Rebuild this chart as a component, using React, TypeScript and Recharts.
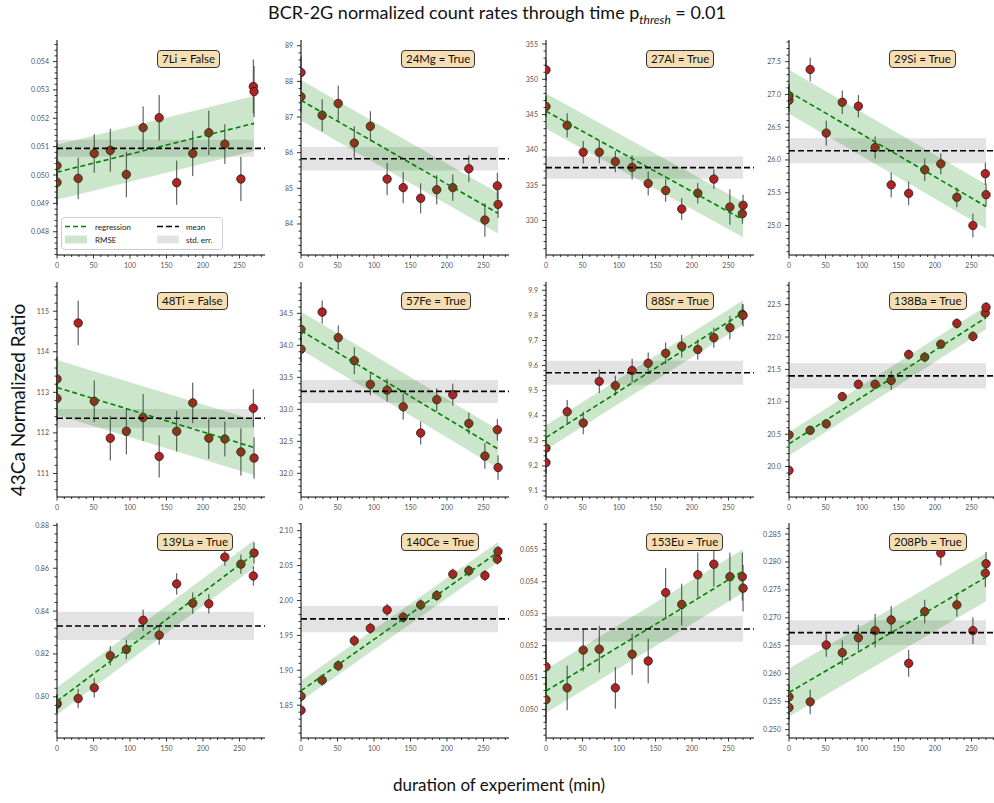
import React from "react";
import {
  ComposedChart,
  Scatter,
  Line,
  Area,
  XAxis,
  YAxis,
  ErrorBar,
  ReferenceLine,
  ReferenceArea,
} from "recharts";

// time of each measurement (min)
const minutes = [0, 0, 29, 51, 73, 95, 118, 140, 164, 186, 208, 230, 252, 269, 270];

const isotopes = ["7Li", "24Mg", "27Al", "29Si", "48Ti", "57Fe", "88Sr", "138Ba", "139La", "140Ce", "153Eu", "208Pb"];
const significant = [false, true, true, true, false, true, true, true, true, true, true, true];

// 43Ca normalized ratios
const li7 = [0.05033, 0.04974, 0.04988, 0.05076, 0.05087, 0.05002, 0.05167, 0.05202, 0.04973, 0.05076, 0.05149, 0.05109, 0.04986, 0.05312, 0.05294];
const mg24 = [88.25, 87.57, 87.05, 87.38, 86.27, 86.74, 85.26, 85.02, 84.72, 84.96, 85.02, 85.55, 84.11, 85.07, 84.55];
const al27 = [351.33, 346.14, 343.48, 339.67, 339.67, 338.33, 337.52, 335.24, 334.24, 331.62, 333.86, 335.86, 331.9, 330.95, 332.14];
const si29 = [26.91, 26.98, 27.38, 26.41, 26.88, 26.82, 26.19, 25.62, 25.49, 25.85, 25.94, 25.43, 25.0, 25.79, 25.47];
const ti48 = [113.33, 112.85, 114.71, 112.78, 111.87, 112.04, 112.38, 111.42, 112.04, 112.74, 111.87, 111.85, 111.53, 112.61, 111.38];
const fe57 = [34.25, 33.94, 34.52, 34.12, 33.76, 33.39, 33.3, 33.04, 32.63, 33.15, 33.23, 32.78, 32.27, 32.68, 32.09];
const sr88 = [9.271, 9.213, 9.416, 9.371, 9.537, 9.52, 9.58, 9.609, 9.649, 9.677, 9.664, 9.711, 9.751, 9.804, 9.8];
const ba138 = [20.49, 19.94, 20.56, 20.66, 21.08, 21.27, 21.27, 21.33, 21.73, 21.69, 21.89, 22.21, 22.01, 22.37, 22.46];
const la139 = [0.7966, 0.797, 0.7992, 0.8042, 0.8192, 0.8221, 0.8357, 0.8288, 0.8527, 0.8437, 0.8434, 0.8652, 0.8619, 0.8564, 0.8671];
const ce140 = [1.8629, 1.8428, 1.8859, 1.9065, 1.9424, 1.9602, 1.9865, 1.976, 1.9937, 2.0071, 2.0377, 2.0425, 2.0358, 2.0593, 2.0703];
const eu153 = [0.05134, 0.05031, 0.05068, 0.05186, 0.05189, 0.05068, 0.05173, 0.05152, 0.05366, 0.05329, 0.05422, 0.05455, 0.05416, 0.05416, 0.0538];
const pb208 = [0.25586, 0.25395, 0.25497, 0.26514, 0.26376, 0.26645, 0.26771, 0.26962, 0.26186, 0.27112, 0.28159, 0.27232, 0.26771, 0.278, 0.27968];

// error bar half widths
const li7Err = [0.0008, 0.0008, 0.00073, 0.00068, 0.00076, 0.0008, 0.00075, 0.0008, 0.00078, 0.0008, 0.00078, 0.0007, 0.00078, 0.00095, 0.0009];
const mg24Err = [0.45, 0.45, 0.45, 0.5, 0.47, 0.42, 0.45, 0.44, 0.42, 0.41, 0.37, 0.37, 0.47, 0.37, 0.38];
const al27Err = [1.5, 1.5, 1.7, 1.6, 1.6, 1.5, 1.7, 1.7, 1.6, 1.55, 1.45, 1.4, 2.5, 1.4, 1.5];
const si29Err = [0.18, 0.18, 0.18, 0.19, 0.18, 0.17, 0.17, 0.19, 0.18, 0.17, 0.16, 0.15, 0.18, 0.17, 0.17];
const ti48Err = [0.55, 0.55, 0.55, 0.51, 0.55, 0.57, 0.58, 0.52, 0.5, 0.5, 0.51, 0.43, 0.58, 0.47, 0.51];
const fe57Err = [0.2, 0.2, 0.18, 0.19, 0.21, 0.17, 0.18, 0.2, 0.18, 0.18, 0.17, 0.17, 0.2, 0.17, 0.19];
const sr88Err = [0.045, 0.045, 0.047, 0.045, 0.047, 0.04, 0.047, 0.043, 0.043, 0.045, 0.04, 0.04, 0.047, 0.04, 0.045];
const ba138Err = [0.08, 0.08, 0.07, 0.07, 0.07, 0.07, 0.07, 0.15, 0.08, 0.08, 0.07, 0.08, 0.08, 0.07, 0.08];
const la139Err = [0.0043, 0.0043, 0.0045, 0.0045, 0.0045, 0.0045, 0.005, 0.0045, 0.005, 0.005, 0.0045, 0.004, 0.0045, 0.0045, 0.005];
const ce140Err = [0.008, 0.008, 0.008, 0.008, 0.008, 0.008, 0.009, 0.008, 0.008, 0.008, 0.008, 0.008, 0.008, 0.008, 0.008];
const eu153Err = [0.0007, 0.0007, 0.0007, 0.00067, 0.00073, 0.00065, 0.00065, 0.0007, 0.00077, 0.00065, 0.0007, 0.0007, 0.00075, 0.00075, 0.00073];
const pb208Err = [0.0022, 0.0022, 0.0022, 0.0021, 0.0022, 0.0023, 0.003, 0.0025, 0.0024, 0.0021, 0.0022, 0.0021, 0.0024, 0.0025, 0.0021];

const ratios = [li7, mg24, al27, si29, ti48, fe57, sr88, ba138, la139, ce140, eu153, pb208];
const ratioErrs = [li7Err, mg24Err, al27Err, si29Err, ti48Err, fe57Err, sr88Err, ba138Err, la139Err, ce140Err, eu153Err, pb208Err];

// regression line at t=0 and t=270, RMSE, mean and standard error
const fitStart = [0.0501, 87.47, 345.48, 27.04, 113.12, 34.23, 9.313, 20.35, 0.798, 1.8706, 0.05058, 0.25664];
const fitEnd = [0.05182, 84.3, 330.1, 25.29, 111.64, 32.38, 9.811, 22.3, 0.8666, 2.0693, 0.05434, 0.27728];
const rmse = [0.00097, 0.57, 2.5, 0.335, 0.68, 0.3, 0.049, 0.18, 0.0064, 0.0145, 0.00068, 0.0043];
const means = [0.05094, 85.83, 337.48, 26.14, 112.36, 33.28, 9.571, 21.4, 0.83306, 1.9736, 0.05252, 0.26735];
const stdErr = [0.0003, 0.33, 1.57, 0.19, 0.23, 0.18, 0.048, 0.195, 0.0066, 0.019, 0.0004, 0.0022];

const yDomains = [
  [0.04718, 0.05476], [83.13, 89.16], [325.1, 355.57], [24.55, 27.83],
  [110.42, 115.72], [31.63, 34.99], [9.076, 9.933], [19.53, 22.85],
  [0.7808, 0.8811], [1.803, 2.111], [0.04911, 0.05584], [0.2485, 0.28697],
];
const yMajorTicks = [
  [0.048, 0.049, 0.05, 0.051, 0.052, 0.053, 0.054],
  [84, 85, 86, 87, 88, 89],
  [330, 335, 340, 345, 350, 355],
  [25.0, 25.5, 26.0, 26.5, 27.0, 27.5],
  [111, 112, 113, 114, 115],
  [32.0, 32.5, 33.0, 33.5, 34.0, 34.5],
  [9.1, 9.2, 9.3, 9.4, 9.5, 9.6, 9.7, 9.8, 9.9],
  [20.0, 20.5, 21.0, 21.5, 22.0, 22.5],
  [0.8, 0.82, 0.84, 0.86, 0.88],
  [1.85, 1.9, 1.95, 2.0, 2.05, 2.1],
  [0.05, 0.051, 0.052, 0.053, 0.054, 0.055],
  [0.25, 0.255, 0.26, 0.265, 0.27, 0.275, 0.28, 0.285],
];
const yMinorStep = [0.0002, 0.2, 1, 0.1, 0.2, 0.1, 0.02, 0.1, 0.004, 0.01, 0.0002, 0.001];
const yDecimals = [3, 0, 0, 1, 0, 1, 1, 1, 2, 2, 3, 3];

const xMajorTicks = [0, 50, 100, 150, 200, 250];
const xDomain = [0, 285];

const COL_LEFT = [57, 301, 546, 789];
const ROW_TOP = [40, 282, 523];
const PLOT_W = 208;
const PLOT_H = 215;
const Y_AXIS_W = 45;
const M_TOP = 6;
const M_RIGHT = 12;
const X_AXIS_H = 20;
const M_BOTTOM = 2;

const FONT = "Lato, 'DejaVu Sans', sans-serif";

function stepTicks(lo: number, hi: number, step: number) {
  const out: number[] = [];
  let k = Math.ceil(lo / step - 1e-9);
  while (k * step <= hi + 1e-12) {
    out.push(+(k * step).toFixed(8));
    k++;
  }
  return out;
}

const xTicks = stepTicks(0, 280, 10);

function XTick(props: any) {
  const { x, y, payload } = props;
  const v = payload.value;
  const major = xMajorTicks.some((m) => Math.abs(m - v) < 1e-6);
  return (
    <g>
      <line x1={x} x2={x} y1={y} y2={y + (major ? 3.5 : 2)} stroke="#000" strokeWidth={0.8} />
      {major && (
        <text x={x} y={y + 12.5} textAnchor="middle" fontSize={7} fill="#555" fontFamily={FONT}>
          {v}
        </text>
      )}
    </g>
  );
}

function YTick(props: any) {
  const { x, y, payload, majors, step, dec } = props;
  const v = payload.value;
  const major = majors.some((m: number) => Math.abs(m - v) < step * 1e-3);
  return (
    <g>
      <line x1={x - (major ? 4 : 2.5)} x2={x} y1={y} y2={y} stroke="#000" strokeWidth={0.8} />
      {major && (
        <text x={x - 8} y={y + 2.5} textAnchor="end" fontSize={7} fill="#555" fontFamily={FONT}>
          {v.toFixed(dec)}
        </text>
      )}
    </g>
  );
}

function Panel({ idx }: { idx: number }) {
  const row = Math.floor(idx / 4);
  const col = idx % 4;
  const plotLeft = COL_LEFT[col];
  const plotTop = ROW_TOP[row];

  const points = minutes.map((t, i) => ({ t, v: ratios[idx][i], err: ratioErrs[idx][i] }));
  const fit = [
    { t: 0, v: fitStart[idx], band: [fitStart[idx] - rmse[idx], fitStart[idx] + rmse[idx]] },
    { t: 270, v: fitEnd[idx], band: [fitEnd[idx] - rmse[idx], fitEnd[idx] + rmse[idx]] },
  ];
  const dom = yDomains[idx];
  const yTicks = stepTicks(dom[0], dom[1], yMinorStep[idx]);

  return (
    <>
      <div style={{ position: "absolute", left: plotLeft - Y_AXIS_W, top: plotTop - M_TOP }}>
        <ComposedChart
          width={Y_AXIS_W + PLOT_W + M_RIGHT}
          height={M_TOP + PLOT_H + X_AXIS_H + M_BOTTOM}
          margin={{ top: M_TOP, right: M_RIGHT, bottom: M_BOTTOM, left: 0 }}
        >
          <XAxis
            dataKey="t"
            type="number"
            domain={xDomain}
            allowDataOverflow
            ticks={xTicks}
            interval={0}
            tickSize={0}
            tickMargin={0}
            tickLine={false}
            tick={<XTick />}
            axisLine={{ stroke: "#000", strokeWidth: 1 }}
            height={X_AXIS_H}
          />
          <YAxis
            dataKey="v"
            type="number"
            domain={dom}
            allowDataOverflow
            ticks={yTicks}
            interval={0}
            tickSize={0}
            tickMargin={0}
            tickLine={false}
            tick={(p: any) => (
              <YTick {...p} majors={yMajorTicks[idx]} step={yMinorStep[idx]} dec={yDecimals[idx]} />
            )}
            axisLine={{ stroke: "#000", strokeWidth: 1 }}
            width={Y_AXIS_W}
          />
          <ReferenceArea
            x1={0}
            x2={270}
            y1={means[idx] - stdErr[idx]}
            y2={means[idx] + stdErr[idx]}
            fill="#808080"
            fillOpacity={0.22}
            stroke="none"
            ifOverflow="hidden"
          />
          <Scatter
            data={points}
            isAnimationActive={false}
            shape={(p: any) => (
              <circle cx={p.cx} cy={p.cy} r={4.2} fill="#B22222" stroke="#1a1a1a" strokeWidth={0.8} />
            )}
          >
            <ErrorBar dataKey="err" direction="y" width={0} stroke="#444" strokeWidth={1} />
          </Scatter>
          <Area
            data={fit}
            dataKey="band"
            type="linear"
            stroke="none"
            fill="#008000"
            fillOpacity={0.2}
            isAnimationActive={false}
            zIndex={700}
          />
          <Line
            data={fit}
            dataKey="v"
            type="linear"
            stroke="#008000"
            strokeWidth={1.6}
            strokeDasharray="5 3"
            dot={false}
            isAnimationActive={false}
            zIndex={710}
          />
          <ReferenceLine
            y={means[idx]}
            stroke="#000"
            strokeWidth={1.6}
            strokeDasharray="6 3"
            zIndex={720}
          />
        </ComposedChart>
      </div>
      <div
        style={{
          position: "absolute",
          left: plotLeft + 100,
          top: plotTop + 10,
          height: 16,
          lineHeight: "16px",
          padding: "0 4px",
          border: "1px solid #333",
          borderRadius: 4,
          background: "#F5DEB3",
          fontSize: 11.5,
          fontFamily: FONT,
          whiteSpace: "nowrap",
        }}
      >
        {isotopes[idx]} = {significant[idx] ? "True" : "False"}
      </div>
    </>
  );
}

function LegendBox() {
  return (
    <svg
      width={163}
      height={34}
      style={{ position: "absolute", left: 61, top: 217 }}
    >
      <rect x={0.5} y={0.5} width={161} height={32} rx={3} fill="#fff" fillOpacity={0.85} stroke="#ccc" />
      <line x1={4} x2={26} y1={9.5} y2={9.5} stroke="#008000" strokeWidth={1.6} strokeDasharray="5 3" />
      <text x={34} y={12.5} fontSize={8} fontFamily={FONT} fill="#222">regression</text>
      <rect x={4} y={18.5} width={22} height={8} fill="#008000" fillOpacity={0.2} />
      <text x={34} y={26} fontSize={8} fontFamily={FONT} fill="#222">RMSE</text>
      <line x1={96} x2={118} y1={9.5} y2={9.5} stroke="#000" strokeWidth={1.6} strokeDasharray="6 3" />
      <text x={125} y={12.5} fontSize={8} fontFamily={FONT} fill="#222">mean</text>
      <rect x={96} y={18.5} width={22} height={8} fill="#808080" fillOpacity={0.22} />
      <text x={125} y={26} fontSize={8} fontFamily={FONT} fill="#222">std. err.</text>
    </svg>
  );
}

export default function App() {
  return (
    <div
      style={{
        position: "absolute",
        left: 0,
        top: 0,
        width: 994,
        height: 803,
        background: "#fff",
        fontFamily: FONT,
        color: "#111",
      }}
    >
      <div
        style={{
          position: "absolute",
          left: 0,
          top: 0,
          width: 994,
          textAlign: "center",
          fontSize: 18,
          lineHeight: "24px",
        }}
      >
        BCR-2G normalized count rates through time p
        <sub style={{ fontStyle: "italic", fontSize: 12 }}>thresh</sub> = 0.01
      </div>
      {isotopes.map((_, i) => (
        <Panel key={i} idx={i} />
      ))}
      <LegendBox />
      <div
        style={{
          position: "absolute",
          left: 18 - 150,
          top: 400 - 12,
          width: 300,
          lineHeight: "24px",
          textAlign: "center",
          fontSize: 19,
          transform: "rotate(-90deg)",
        }}
      >
        43Ca Normalized Ratio
      </div>
      <div
        style={{
          position: "absolute",
          left: 0,
          top: 773,
          width: 998,
          textAlign: "center",
          fontSize: 17,
          lineHeight: "24px",
        }}
      >
        duration of experiment (min)
      </div>
    </div>
  );
}
